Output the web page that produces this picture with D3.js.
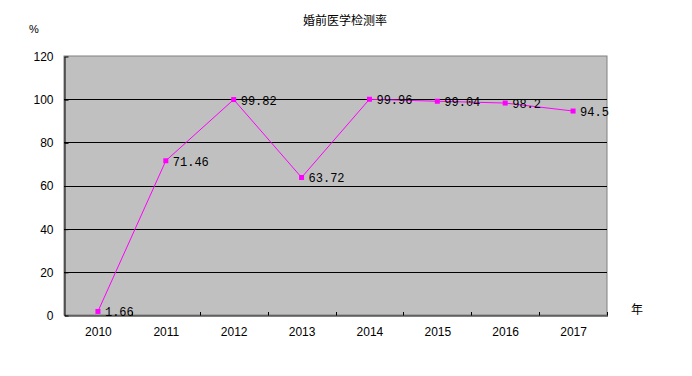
<!DOCTYPE html>
<html>
<head>
<meta charset="utf-8">
<script src="https://cdn.jsdelivr.net/npm/d3@7"></script>
<style>
  body{margin:0;background:#fff;}
  svg{display:block;}
</style>
</head>
<body>
<svg id="chart" width="692" height="376"></svg>
<script>
const years=["2010","2011","2012","2013","2014","2015","2016","2017"];
const rates=[1.66,71.46,99.82,63.72,99.96,99.04,98.2,94.5];
const rateLabels=["1.66","71.46","99.82","63.72","99.96","99.04","98.2","94.5"];
const yTicks=[0,20,40,60,80,100,120];

const svg=d3.select("#chart");
const m={top:56,right:85,bottom:61,left:64};
const w=692,h=376;

const x=d3.scaleBand().domain(years).range([m.left,w-m.right]);
const y=d3.scaleLinear().domain([0,120]).range([h-m.bottom,m.top]);

// plot background
svg.append("rect")
  .attr("x",m.left).attr("y",m.top)
  .attr("width",w-m.left-m.right).attr("height",h-m.top-m.bottom)
  .attr("fill","#c0c0c0").attr("stroke","#808080").attr("stroke-width",1);

// gridlines
svg.append("g").selectAll("line")
  .data(yTicks.filter(d=>d>0&&d<120))
  .enter().append("line")
  .attr("x1",m.left).attr("x2",w-m.right)
  .attr("y1",d=>Math.round(y(d))+0.5).attr("y2",d=>Math.round(y(d))+0.5)
  .attr("stroke","#000").attr("stroke-width",1);

// axes
const ya=svg.append("g")
  .attr("transform",`translate(${m.left+0.5},0.5)`)
  .call(d3.axisLeft(y).tickValues(yTicks).tickSize(-4).tickPadding(11).tickSizeOuter(0));
ya.select(".domain").attr("stroke","#000");
ya.selectAll(".tick line").attr("stroke","#000");
ya.selectAll("text").attr("font-family","Liberation Sans, Arial, sans-serif").attr("font-size","12px").attr("fill","#000");

const xa=svg.append("g")
  .attr("transform",`translate(0.5,${Math.round(y(0))+0.5})`)
  .call(d3.axisBottom(x).tickSize(0).tickPadding(12).tickSizeOuter(0));
xa.select(".domain").attr("stroke","#000");
xa.selectAll("text").attr("font-family","Liberation Sans, Arial, sans-serif").attr("font-size","12px").attr("fill","#000");
// category separator ticks (pointing into the plot)
svg.append("g").selectAll("line")
  .data(years)
  .enter().append("line")
  .attr("x1",d=>Math.round(x(d)+x.bandwidth())+0.5)
  .attr("x2",d=>Math.round(x(d)+x.bandwidth())+0.5)
  .attr("y1",Math.round(y(0))-3).attr("y2",Math.round(y(0))+0.5)
  .attr("stroke","#000");

const pts=years.map((d,i)=>({year:d,v:rates[i],label:rateLabels[i]}));

// line
svg.append("path")
  .datum(pts)
  .attr("fill","none").attr("stroke","#ff00ff").attr("stroke-width",1)
  .attr("d",d3.line().x(d=>x(d.year)+x.bandwidth()/2).y(d=>y(d.v)));

// markers
svg.append("g").selectAll("rect")
  .data(pts).enter().append("rect")
  .attr("x",d=>x(d.year)+x.bandwidth()/2-2.5)
  .attr("y",d=>y(d.v)-2.5)
  .attr("width",5).attr("height",5)
  .attr("fill","#ff00ff");

// value labels
svg.append("g").selectAll("text")
  .data(pts).enter().append("text")
  .attr("x",d=>x(d.year)+x.bandwidth()/2+7)
  .attr("y",d=>y(d.v)+5)
  .attr("font-family","Liberation Mono, DejaVu Sans Mono, monospace")
  .attr("font-size","12px")
  .attr("fill","#000")
  .text(d=>d.label);

// title & unit labels
svg.append("text")
  .attr("x",345).attr("y",25)
  .attr("text-anchor","middle")
  .attr("font-family","Noto Sans CJK SC, sans-serif")
  .attr("font-size","12px")
  .text("婚前医学检测率");

svg.append("text")
  .attr("x",34).attr("y",33)
  .attr("text-anchor","middle")
  .attr("font-family","Liberation Sans, Arial, sans-serif")
  .attr("font-size","11px")
  .text("%");

svg.append("text")
  .attr("x",637).attr("y",314)
  .attr("text-anchor","middle")
  .attr("font-family","Noto Sans CJK SC, sans-serif")
  .attr("font-size","12px")
  .text("年");
</script>
</body>
</html>
